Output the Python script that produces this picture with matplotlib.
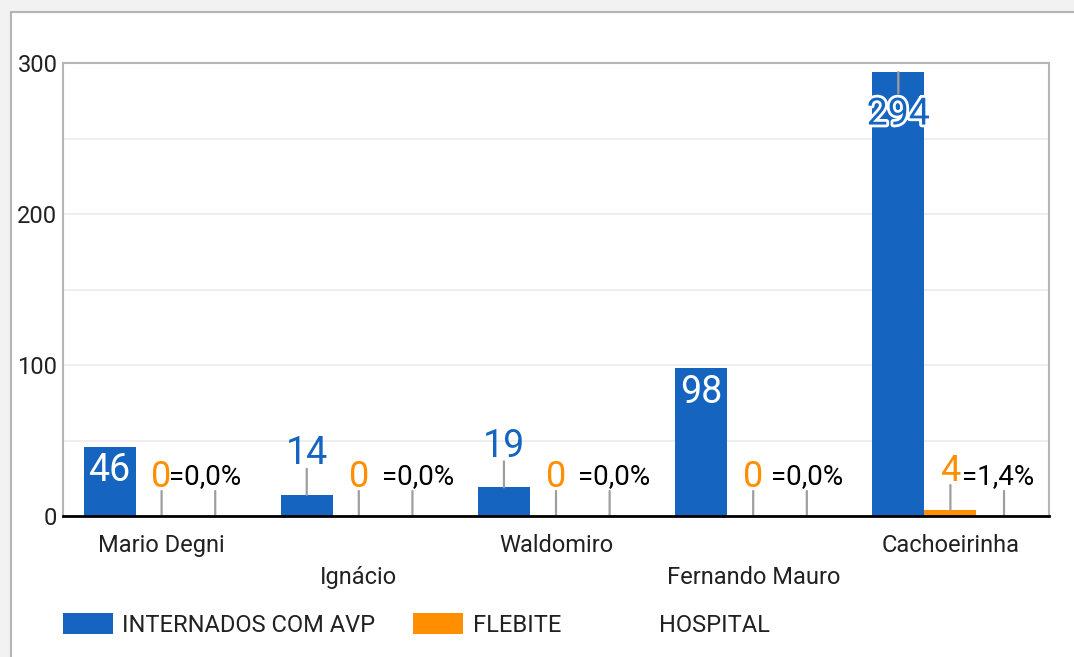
import matplotlib
matplotlib.use("Agg")
import matplotlib.pyplot as plt
from matplotlib.patches import Patch, Rectangle
import matplotlib.patheffects as pe
import numpy as np

plt.rcParams['font.family'] = ['Roboto', 'DejaVu Sans']

# ---------------- data ----------------
categories = ["Mario Degni", "Ignácio", "Waldomiro", "Fernando Mauro", "Cachoeirinha"]
internados = [46, 14, 19, 98, 294]
flebite = [0, 0, 0, 0, 4]
hospital = [0, 0, 0, 0, 0]
hospital_pct = [0.0, 0.0, 0.0, 0.0, 1.4]
series_names = ["INTERNADOS COM AVP", "FLEBITE", "HOSPITAL"]
yticks = [0, 100, 200, 300]

# ---------------- style ----------------
BLUE = "#1565c0"
ORANGE = "#ff8f00"
LEADER = "#9e9e9e"
FRAME = "#b5b5b5"
GRID = "#ebebeb"
TXT = "#212121"
PX = 0.72  # points per pixel at 100 dpi
pct_shift_px = [-10, 6, 5, 0, -6]  # label collision nudges

W, H = 1074, 657
fig = plt.figure(figsize=(W / 100, H / 100), dpi=100, facecolor="#f2f2f2")
fig.patches.append(Rectangle((11 / W, -0.1), 1.2, (H - 12) / H + 0.1, transform=fig.transFigure,
                             facecolor="white", edgecolor=FRAME, lw=1.5, zorder=0))

ax = fig.add_axes([63 / W, (H - 516) / H, (1049 - 63) / W, (516 - 63) / H])
ax.set_facecolor("white")
ax.set_zorder(1)

n = len(categories)
x = np.arange(n)
bw = 0.264
off = [-bw, 0.0, bw * 1.03]

ax.bar(x + off[0], internados, width=bw, color=BLUE, zorder=3)
ax.bar(x + off[1], flebite, width=bw, color=ORANGE, zorder=3)
ax.bar(x + off[2], hospital, width=bw, color="none", zorder=3)

ax.set_xlim(-0.5, n - 0.5)
ax.set_ylim(0, 300)
ax.set_yticks(yticks)
ax.set_yticklabels([str(t) for t in yticks])
ax.set_yticks([50, 150, 250], minor=True)
ax.grid(axis="y", which="both", color=GRID, lw=1.2, zorder=0)
ax.tick_params(axis="y", which="both", length=0, pad=4, labelsize=17, labelcolor=TXT)

ax.set_xticks(x)
ax.set_xticklabels(categories)
ax.tick_params(axis="x", length=0, labelsize=17, labelcolor=TXT)
for i, t in enumerate(ax.xaxis.get_major_ticks()):
    t.set_pad(13 if i % 2 == 0 else 36)

for s in ["left", "top", "right"]:
    ax.spines[s].set_color(FRAME)
    ax.spines[s].set_linewidth(1.5)
ax.spines["bottom"].set_color("black")
ax.spines["bottom"].set_linewidth(2)
ax.spines["bottom"].set_zorder(5)


def leader(xp, yv, dy_px):
    ax.annotate("", xy=(xp, yv), xytext=(0, dy_px * PX), textcoords="offset points",
                arrowprops=dict(arrowstyle="-", color=LEADER, lw=1.6, shrinkA=0, shrinkB=0),
                zorder=4, annotation_clip=False)


def label(xp, yv, dy_px, s, color, size, dx_px=0, **kw):
    return ax.annotate(s, xy=(xp, yv), xytext=(dx_px * PX, dy_px * PX), textcoords="offset points",
                       ha="center", va="center", color=color, fontsize=size, zorder=6,
                       annotation_clip=False, **kw)


ymax = ax.get_ylim()[1]
px_per_unit = 453 / ymax
for i, v in enumerate(internados):
    xp = x[i] + off[0]
    hpx = v * px_per_unit
    if hpx + 60 > 453:
        leader(xp, v, -21)
        label(xp, v, -42, str(v), BLUE, 27,
              path_effects=[pe.withStroke(linewidth=4, foreground="white")])
    elif hpx >= 45:
        label(xp, v, -24, str(v), "white", 27)
    else:
        leader(xp, v, 26)
        label(xp, v, 41, str(v), BLUE, 27)

for i, v in enumerate(flebite):
    xp = x[i] + off[1]
    leader(xp, v, 25)
    label(xp, v, 39, str(v), ORANGE, 26)

for i, v in enumerate(hospital):
    xp = x[i] + off[2]
    leader(xp, v, 25)
    s = "=" + f"{hospital_pct[i]:.1f}".replace(".", ",") + "%"
    label(xp, v, 39, s, "black", 20, dx_px=pct_shift_px[i])

handles = [Patch(facecolor=BLUE, edgecolor="none"),
           Patch(facecolor=ORANGE, edgecolor="none"),
           Patch(facecolor="none", edgecolor="none")]
fig.legend(handles, series_names, loc="center left", bbox_to_anchor=(63 / W, 1 - 625 / H),
           ncol=3, frameon=False, fontsize=17, handlelength=2.1, handleheight=1.0,
           handletextpad=0.42, columnspacing=1.6, borderpad=0, borderaxespad=0,
           labelcolor=TXT)

fig.savefig("out.png", dpi=100, facecolor=fig.get_facecolor())
